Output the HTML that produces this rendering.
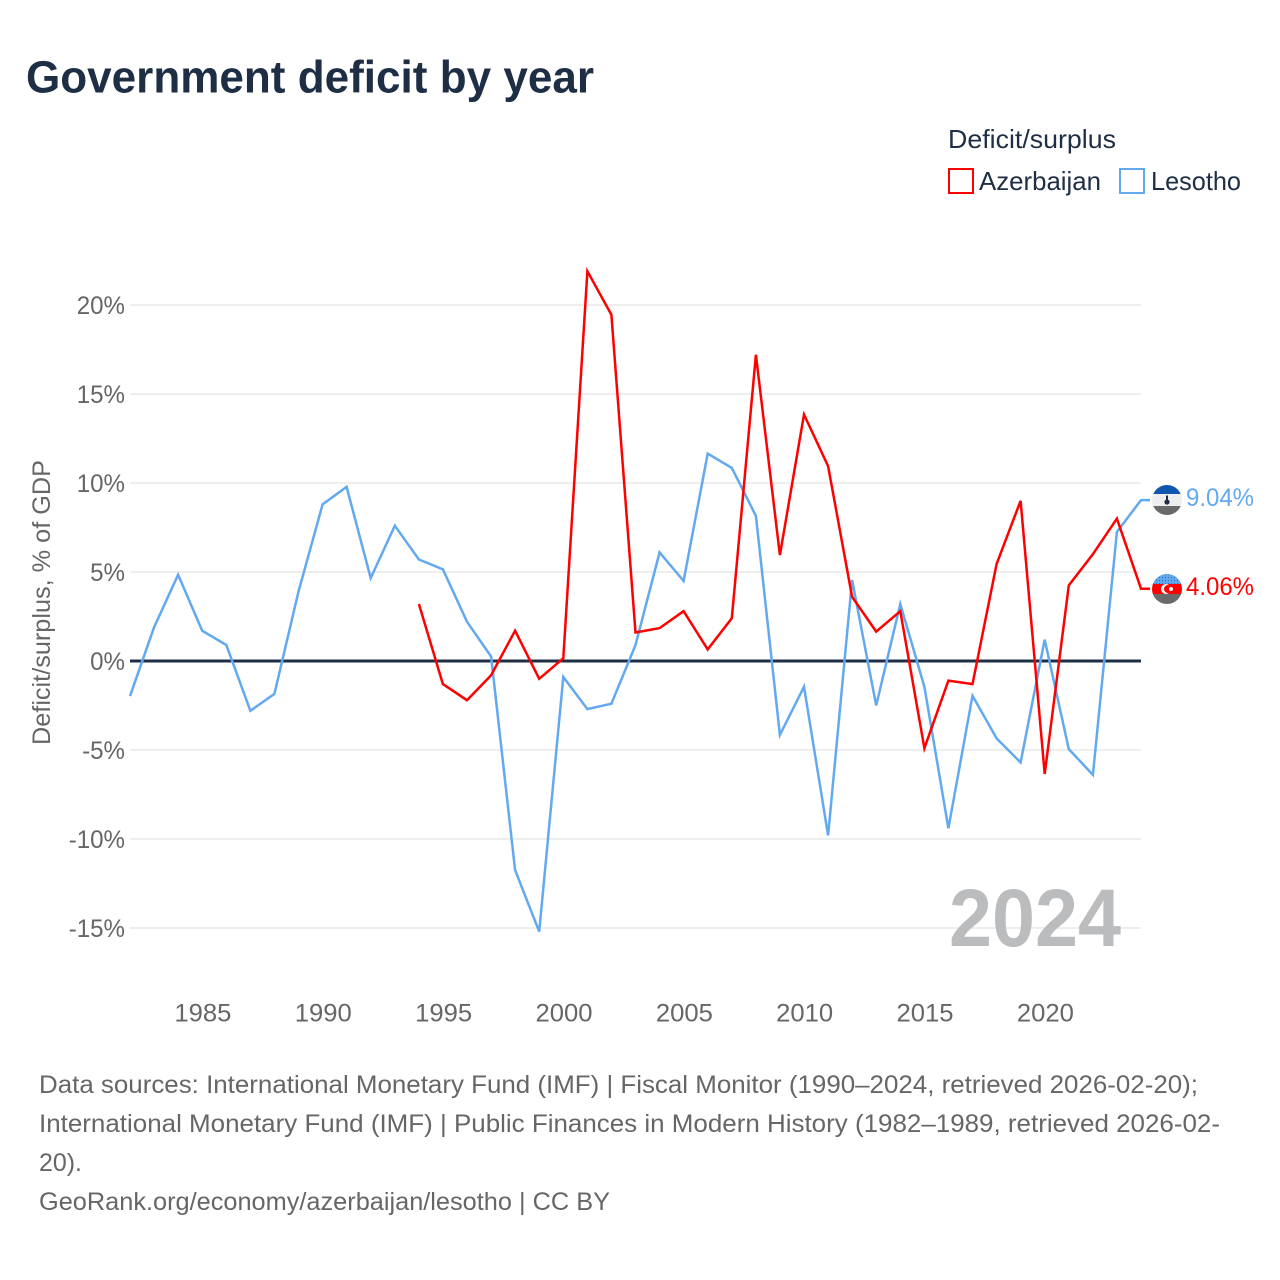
<!DOCTYPE html>
<html lang="en">
<head>
<meta charset="utf-8">
<title>Government deficit by year</title>
<style>
html,body{margin:0;padding:0;background:#fff;width:1280px;height:1280px;overflow:hidden}
svg{display:block}
text{font-family:"Liberation Sans",Arial,sans-serif}
</style>
</head>
<body>
<svg id="chart" width="1280" height="1280" viewBox="0 0 1280 1280" xmlns="http://www.w3.org/2000/svg">
  <defs>
    <clipPath id="clip-ls"><circle cx="1167" cy="500" r="15"/></clipPath>
    <clipPath id="clip-az"><circle cx="1167" cy="589" r="15"/></clipPath>
    <pattern id="dots" width="3" height="3" patternUnits="userSpaceOnUse"><rect width="3" height="3" fill="#62a8ee"/><circle cx="1.5" cy="1.5" r="0.6" fill="#3b6fa8"/></pattern>
  </defs>
  <text x="26" y="92.5" font-size="45" font-weight="700" fill="#1d2e45" textLength="568" lengthAdjust="spacingAndGlyphs">Government deficit by year</text>

  <text x="948" y="148" font-size="26" fill="#1d2e45" textLength="168" lengthAdjust="spacingAndGlyphs">Deficit/surplus</text>
  <g>
    <rect x="949" y="169" width="24" height="24" fill="#fff" stroke="#ff0000" stroke-width="2"/>
    <text x="979" y="190" font-size="26" fill="#1d2e45" textLength="122" lengthAdjust="spacingAndGlyphs">Azerbaijan</text>
  </g>
  <g>
    <rect x="1120" y="169" width="24" height="24" fill="#fff" stroke="#63a9f0" stroke-width="2"/>
    <text x="1151" y="190" font-size="26" fill="#1d2e45" textLength="90" lengthAdjust="spacingAndGlyphs">Lesotho</text>
  </g>

  <text transform="translate(50,745) rotate(-90)" x="0" y="0" font-size="25" fill="#666666" textLength="285" lengthAdjust="spacingAndGlyphs">Deficit/surplus, % of GDP</text>

  <g id="grid"></g>
  <g id="yticks"></g>
  <g id="xticks"></g>

  <text x="949" y="946" font-size="82" font-weight="700" fill="#bbbcbe" textLength="172" lengthAdjust="spacingAndGlyphs">2024</text>

  <line id="zero" x1="130" x2="1141" stroke="#1d2e45" stroke-width="3"/>
  <g id="series"></g>

  <g clip-path="url(#clip-ls)">
    <rect x="1150" y="484" width="34" height="10" fill="#0f56b0"/>
    <rect x="1150" y="494" width="34" height="12" fill="#eeeeee"/>
    <rect x="1150" y="506" width="34" height="10" fill="#6a6a6a"/>
    <circle cx="1167" cy="502" r="2.6" fill="#1d2e45"/>
    <rect x="1166" y="495.5" width="2" height="6" fill="#1d2e45"/>
  </g>
  <g clip-path="url(#clip-az)">
    <rect x="1150" y="573" width="34" height="11" fill="url(#dots)"/>
    <rect x="1150" y="584" width="34" height="10" fill="#ff0000"/>
    <rect x="1150" y="594" width="34" height="11" fill="#6a6a6a"/>
    <circle cx="1166" cy="589" r="5" fill="#ffffff"/>
    <circle cx="1168" cy="589" r="4" fill="#ff0000"/>
    <circle cx="1171" cy="589" r="2" fill="#ffffff"/>
  </g>
  <text id="label-ls" x="1186" y="506" font-size="25" fill="#63a9f0" textLength="68" lengthAdjust="spacingAndGlyphs">9.04%</text>
  <text id="label-az" x="1186" y="595" font-size="25" fill="#ff0000" textLength="68" lengthAdjust="spacingAndGlyphs">4.06%</text>

  <g font-size="25" fill="#666666">
    <text x="39" y="1093" textLength="1159" lengthAdjust="spacingAndGlyphs">Data sources: International Monetary Fund (IMF) | Fiscal Monitor (1990–2024, retrieved 2026-02-20);</text>
    <text x="39" y="1132" textLength="1181" lengthAdjust="spacingAndGlyphs">International Monetary Fund (IMF) | Public Finances in Modern History (1982–1989, retrieved 2026-02-</text>
    <text x="39" y="1171" textLength="43" lengthAdjust="spacingAndGlyphs">20).</text>
    <text x="39" y="1210" textLength="571" lengthAdjust="spacingAndGlyphs">GeoRank.org/economy/azerbaijan/lesotho | CC BY</text>
  </g>
</svg>
<script>
const years = [1982,1983,1984,1985,1986,1987,1988,1989,1990,1991,1992,1993,1994,1995,1996,1997,1998,1999,2000,2001,2002,2003,2004,2005,2006,2007,2008,2009,2010,2011,2012,2013,2014,2015,2016,2017,2018,2019,2020,2021,2022,2023,2024];
const lesotho = [-1.97,1.9,4.85,1.7,0.9,-2.8,-1.85,3.9,8.8,9.78,4.66,7.6,5.7,5.15,2.2,0.25,-11.75,-15.2,-0.9,-2.7,-2.4,0.9,6.1,4.5,11.65,10.85,8.15,-4.15,-1.45,-9.8,4.55,-2.5,3.2,-1.45,-9.4,-1.95,-4.35,-5.7,1.2,-4.95,-6.4,7.25,9.04];
const azerbaijan = [null,null,null,null,null,null,null,null,null,null,null,null,3.2,-1.3,-2.2,-0.8,1.7,-1.0,0.15,21.9,19.45,1.6,1.85,2.8,0.65,2.4,17.2,5.95,13.85,10.95,3.6,1.65,2.8,-4.9,-1.1,-1.3,5.45,9.0,-6.35,4.25,6.0,8.0,4.06];
const yTickValues = [20,15,10,5,0,-5,-10,-15];
const xTickValues = [1985,1990,1995,2000,2005,2010,2015,2020];

const NS = 'http://www.w3.org/2000/svg';
function xScale(year){ return 130 + (year - 1982) * (1141 - 130) / 42; }
function yScale(v){ return 661 - v * 17.8; }
function make(tag, parent){ const el = document.createElementNS(NS, tag); parent.appendChild(el); return el; }

const grid = document.getElementById('grid');
const yticks = document.getElementById('yticks');
const xticks = document.getElementById('xticks');

yTickValues.forEach(function(v){
  if (v !== 0) {
    const ln = make('line', grid);
    
    
    ln.setAttribute('x1', 130);
    ln.setAttribute('x2', 1141);
    ln.setAttribute('y1', yScale(v));
    ln.setAttribute('y2', yScale(v));
    ln.setAttribute('stroke', '#e8e8e8');
    ln.setAttribute('stroke-width', '1.5');
  }
  const t = make('text', yticks);
  
  
  t.setAttribute('x', 125);
  t.setAttribute('y', yScale(v) + 9);
  t.setAttribute('text-anchor', 'end');
  t.setAttribute('font-size', '25');
  t.setAttribute('fill', '#666666');
  t.textContent = v + '%';
  t.setAttribute('textLength', (t.getComputedTextLength() * 0.965).toFixed(1));
  t.setAttribute('lengthAdjust', 'spacingAndGlyphs');
});

xTickValues.forEach(function(y){
  const t = make('text', xticks);
  
  
  t.setAttribute('x', xScale(y) + 0.7);
  t.setAttribute('y', 1021.5);
  t.setAttribute('text-anchor', 'middle');
  t.setAttribute('font-size', '25');
  t.setAttribute('fill', '#666666');
  t.textContent = String(y);
  t.setAttribute('textLength', '57');
  t.setAttribute('lengthAdjust', 'spacingAndGlyphs');
});

const zero = document.getElementById('zero');
zero.setAttribute('y1', yScale(0));
zero.setAttribute('y2', yScale(0));

const seriesGroup = document.getElementById('series');
function drawSeries(values, color, name){
  const pts = [];
  values.forEach(function(v, i){
    if (v !== null) pts.push(xScale(years[i]).toFixed(1) + ',' + yScale(v).toFixed(1));
  });
  const last = values[values.length - 1];
  const line = make('polyline', seriesGroup);
  
  
  line.setAttribute('points', pts.join(' ') + ' ' + (xScale(years[years.length - 1]) + 9) + ',' + yScale(last).toFixed(1));
  line.setAttribute('fill', 'none');
  line.setAttribute('stroke', color);
  line.setAttribute('stroke-width', '2.5');
  line.setAttribute('stroke-linejoin', 'miter');
}
drawSeries(lesotho, '#63a9f0', 'line-lesotho');
drawSeries(azerbaijan, '#ff0000', 'line-azerbaijan');

document.getElementById('label-ls').textContent = lesotho[lesotho.length - 1].toFixed(2) + '%';
document.getElementById('label-az').textContent = azerbaijan[azerbaijan.length - 1].toFixed(2) + '%';
</script>
</body>
</html>
